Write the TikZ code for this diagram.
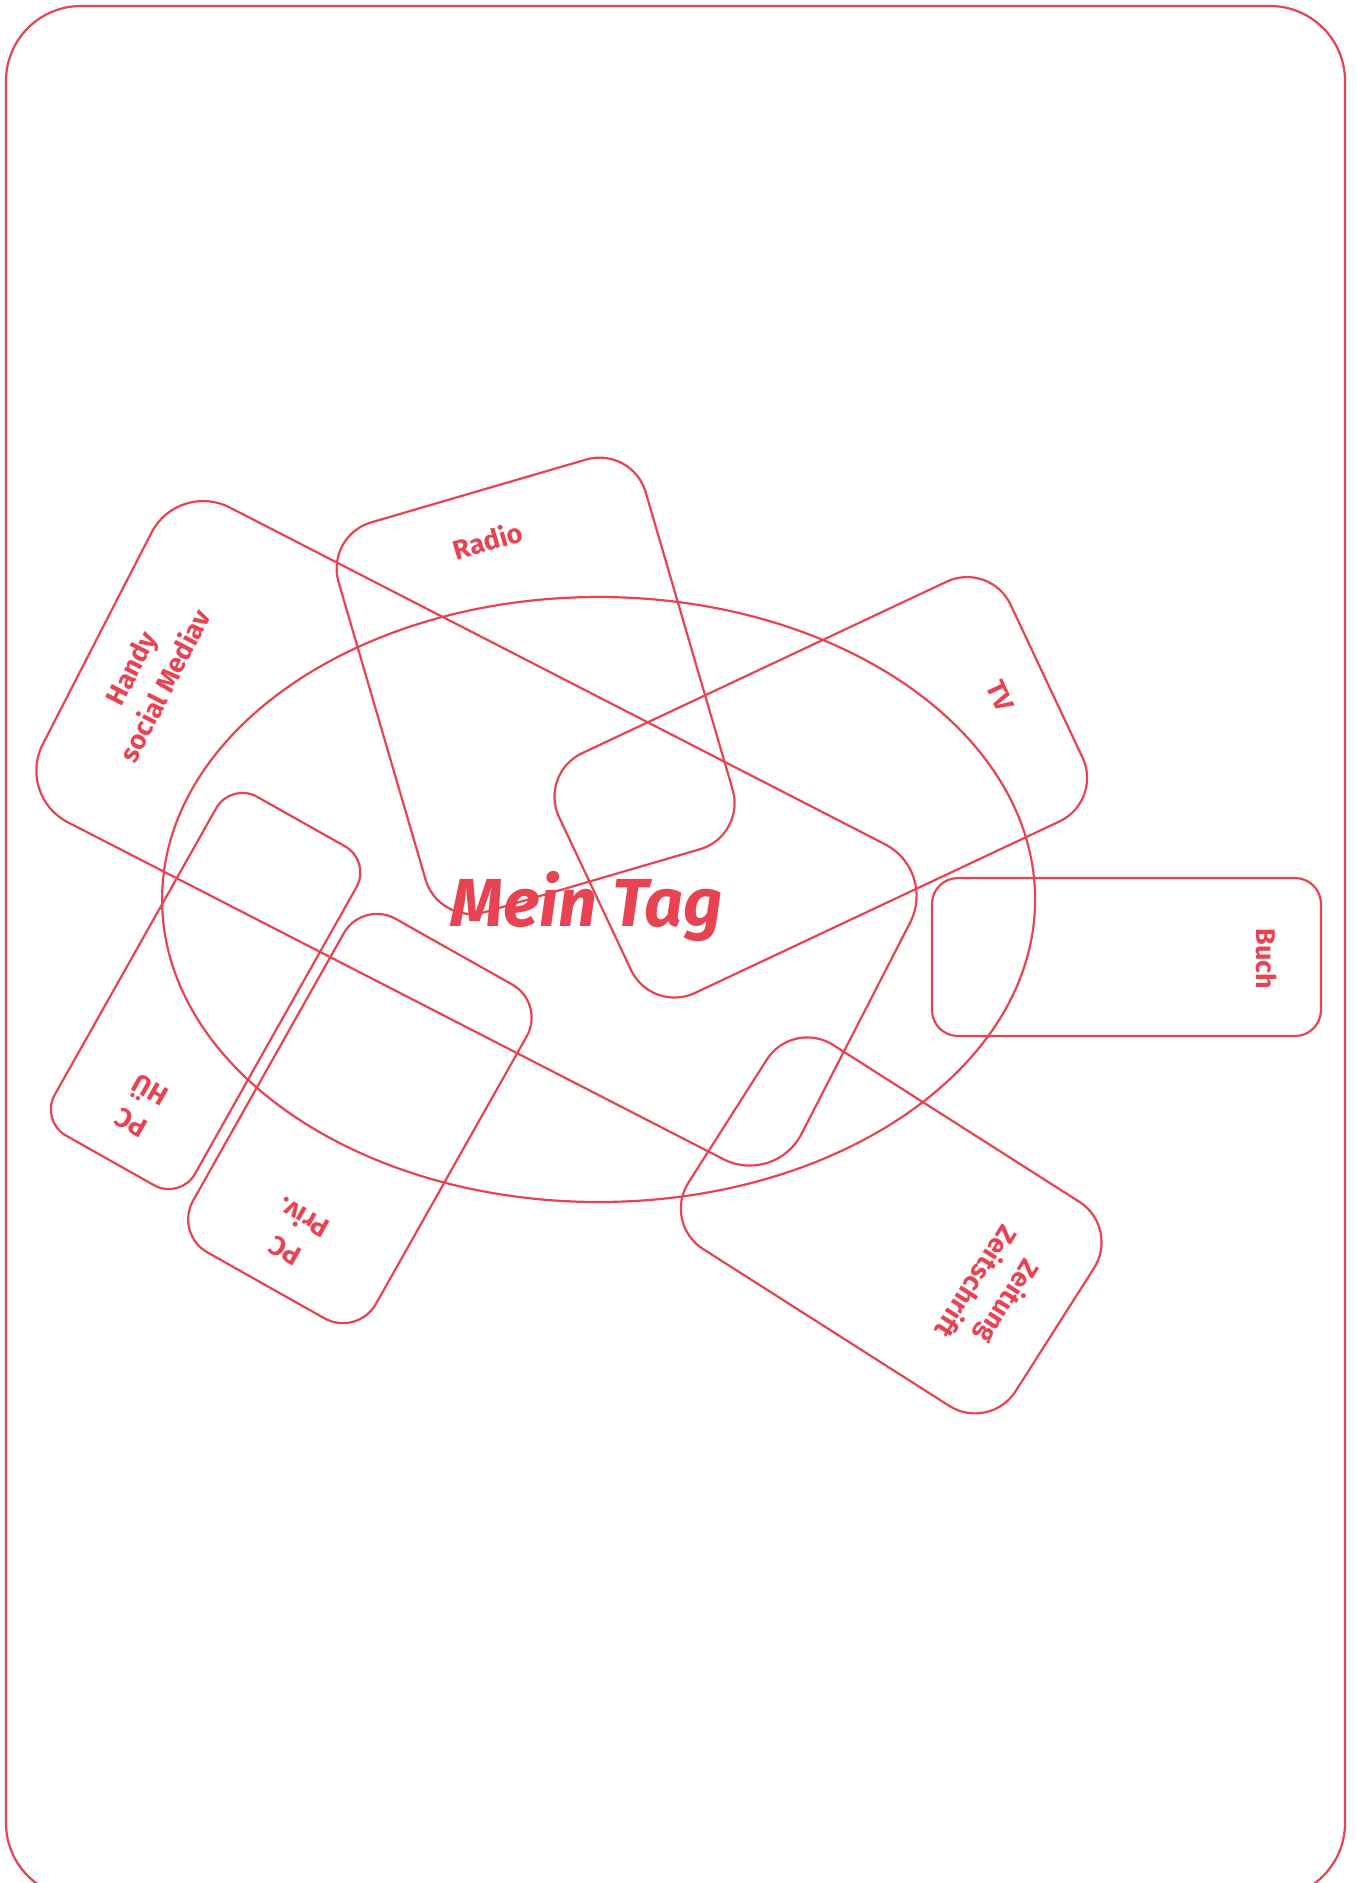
\documentclass[tikz,border=0pt]{standalone}
\usepackage{fontspec}
\setmainfont{Fira Sans}
\usepackage{tikz}
\usetikzlibrary{shapes.geometric, positioning, calc}
\definecolor{tagred}{HTML}{E84352}

\begin{document}
\begin{tikzpicture}[
    x=1pt, y=-1pt,
    card/.style={rectangle, draw=tagred, line width=2.2pt, inner sep=0pt},
    cardlabel/.style={text=tagred, font=\fontsize{27}{38}\selectfont\bfseries, align=center, inner sep=0pt},
    title/.style={text=tagred, font=\fontsize{68}{80}\selectfont\bfseries\itshape, inner sep=0pt},
    frame/.style={rectangle, draw=tagred, line width=2.2pt, rounded corners=75pt, inner sep=0pt}
]
\useasboundingbox (0,0) rectangle (1357,1883);

% Frame
\node[frame, minimum width=1339pt, minimum height=1892pt] (page) at (675.5,952) {};

% Centre
\node[ellipse, draw=tagred, line width=2.2pt, inner sep=0pt, minimum width=873pt, minimum height=605pt] (tag) at (598.6,899.5) {};
\node[title] (tagtitle) at ([xshift=-12pt, yshift=-7pt]tag.center) {Mein Tag};

% Cards
\begin{scope}[shift={(476.5,833.3)}, rotate=-27.2, transform shape]
  \node[card, rounded corners=58pt, minimum width=853pt, minimum height=354pt] (handy) at (0,0) {};
  \node[cardlabel, rotate=90] (handylabel) at (-364,11) {Handy\\social Mediav};
\end{scope}

\begin{scope}[shift={(535.6,685.8)}, rotate=16.3, transform shape]
  \node[card, rounded corners=48pt, minimum width=320pt, minimum height=406pt] (radio) at (0,0) {};
  \node[cardlabel] (radiolabel) at (-5,-153) {Radio};
\end{scope}

\begin{scope}[shift={(820.8,787.3)}, rotate=25.2, transform shape]
  \node[card, rounded corners=48pt, minimum width=499pt, minimum height=265pt] (tv) at (0,0) {};
  \node[cardlabel, rotate=-90] (tvlabel) at (201,-6) {TV};
\end{scope}

\node[card, rounded corners=26pt, minimum width=389pt, minimum height=158pt] (buch) at (1126.5,957) {};
\node[cardlabel, rotate=-90] (buchlabel) at (1266.5,959) {Buch};

\begin{scope}[shift={(205.6,991)}, rotate=-29.4, transform shape]
  \node[card, rounded corners=30pt, minimum width=161pt, minimum height=389pt] (pchue) at (0,0) {};
  \node[cardlabel, rotate=180] (pchuelabel) at (0,132) {PC\\HÜ};
\end{scope}

\begin{scope}[shift={(359.9,1118.5)}, rotate=-29.4, transform shape]
  \node[card, rounded corners=38pt, minimum width=210pt, minimum height=383pt] (pcpriv) at (0,0) {};
  \node[cardlabel, rotate=180] (pcprivlabel) at (0,133) {PC\\Priv.};
\end{scope}

\begin{scope}[shift={(891.2,1225.4)}, rotate=-32.5, transform shape]
  \node[card, rounded corners=48pt, minimum width=388pt, minimum height=242pt] (zeitung) at (0,0) {};
  \node[cardlabel, rotate=-90] (zeitunglabel) at (122,2) {Zeitung\\Zeitschrift};
\end{scope}

\end{tikzpicture}
\end{document}
